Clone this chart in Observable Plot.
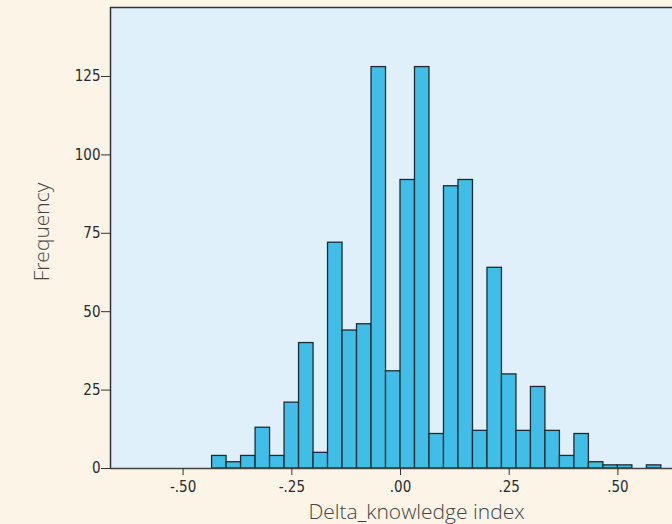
<!DOCTYPE html>
<html>
<head>
<meta charset="utf-8">
<script src="https://cdn.jsdelivr.net/npm/d3@7"></script>
<script src="https://cdn.jsdelivr.net/npm/@observablehq/plot@0.6"></script>
<style>
  html, body { margin: 0; padding: 0; background: #fdf4e8; }
  #chart { width: 672px; height: 524px; overflow: hidden; }
</style>
</head>
<body>
<div id="chart"></div>
<script>
// Histogram bins: bin index k covers [k*binWidth, (k+1)*binWidth]
const binWidth = 1 / 30;
const binIndex = [-13, -12, -11, -10, -9, -8, -7, -6, -5, -4, -3, -2, -1, 0, 1, 2, 3, 4, 5, 6, 7, 8, 9, 10, 11, 12, 13, 14, 15, 16, 17];
const counts   = [  4,   2,   4,  13,  4,  21,  40,   5,  72,  44,  46, 128,  31, 92, 128, 11, 90, 92, 12, 64, 30, 12, 26, 12, 4, 11, 2, 1, 1, 0, 1];
const xTicks = [-0.5, -0.25, 0, 0.25, 0.5];
const yTicks = [0, 25, 50, 75, 100, 125];
const xDomain = [-0.667, 0.6256];
const yDomain = [0, 147];
const xTitle = "Delta_knowledge index";
const yTitle = "Frequency";

const bins = binIndex.map((k, i) => ({x1: k * binWidth, x2: (k + 1) * binWidth, count: counts[i]}))
  .filter(d => d.count > 0);

const fmtX = d => (d < 0 ? "-" : "") + d3.format(".2f")(Math.abs(d)).replace(/^0/, "");

const tickFont = "'Liberation Sans Narrow', 'DejaVu Sans Condensed', sans-serif";
const titleFont = "'Open Sans', Lato, sans-serif";

const chart = Plot.plot({
  width: 672,
  height: 524,
  marginLeft: 110,
  marginRight: 0,
  marginTop: 7,
  marginBottom: 56,
  style: {background: "#fdf4e8", color: "#2b2b2b", fontFamily: tickFont, fontSize: "15px", overflow: "visible"},
  x: {domain: xDomain},
  y: {domain: yDomain},
  marks: [
    Plot.frame({fill: "#dff0fa", stroke: null}),
    Plot.rectY(bins, {x1: "x1", x2: "x2", y: "count", fill: "#41bee8", stroke: "#1f2a30", strokeWidth: 1.3, inset: 0}),
    Plot.ruleY([yDomain[1]], {stroke: "#333", strokeWidth: 1.5}),
    Plot.ruleX([xDomain[0]], {stroke: "#333", strokeWidth: 1.5}),
    Plot.ruleY([0], {stroke: "#444", strokeWidth: 1.5}),
    Plot.axisX({ticks: xTicks, tickFormat: fmtX, tickSize: 7, tickPadding: 6, label: null, stroke: "#333", fontSize: 15}),
    Plot.axisY({ticks: yTicks, tickSize: 9, tickPadding: 1, label: null, stroke: "#333", fontSize: 15}),
    Plot.text([xTitle], {frameAnchor: "bottom", textAnchor: "middle", dx: 25, dy: 50, text: d => d, fontSize: 21, fontWeight: 300, fontFamily: titleFont, fill: "#444"}),
    Plot.text([yTitle], {frameAnchor: "left", textAnchor: "middle", rotate: -90, dx: -68, dy: -6, text: d => d, fontSize: 21, fontWeight: 300, fontFamily: titleFont, fill: "#444"})
  ]
});
document.getElementById("chart").appendChild(chart);
</script>
</body>
</html>
